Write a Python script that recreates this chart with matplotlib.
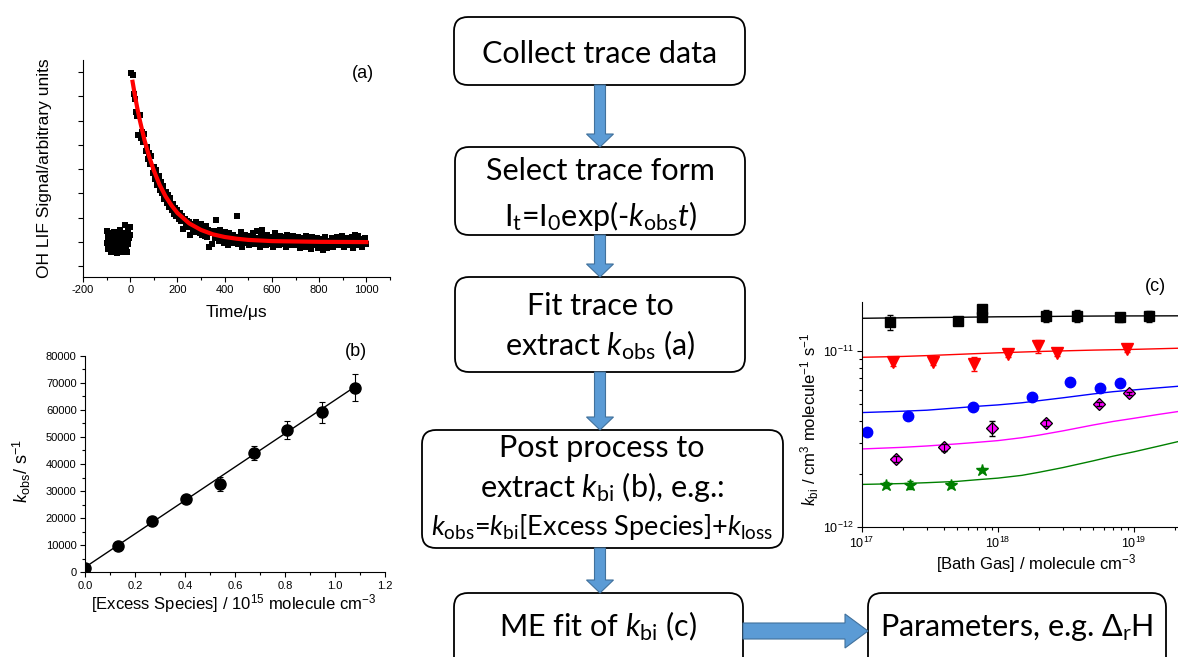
import matplotlib
matplotlib.use("Agg")
import matplotlib.pyplot as plt
from matplotlib.patches import FancyBboxPatch, FancyArrow
from matplotlib.ticker import MultipleLocator, NullFormatter, FormatStrFormatter
import numpy as np

plt.rcParams['font.family'] = ['Liberation Sans', 'DejaVu Sans']
plt.rcParams['mathtext.fontset'] = 'custom'
plt.rcParams['mathtext.rm'] = 'Lato'
plt.rcParams['mathtext.it'] = 'Lato:italic'
plt.rcParams['mathtext.bf'] = 'Lato:bold'
plt.rcParams['axes.unicode_minus'] = False

# ---- panel (a): OH LIF trace ----
pre_t = np.arange(-100, 0.1, 2.5)
pre_v = [1.45, 0.95, 1.20, 0.70, 1.05, 0.80, 1.35, 0.60, 1.10, 0.90,
         1.25, 0.75, 1.00, 1.40, 0.65, 0.85, 1.15, 0.55, 0.95, 1.30,
         0.80, 1.05, 1.50, 0.70, 0.90, 1.20, 0.60, 1.00, 1.35, 0.85,
         1.10, 1.70, 0.75, 0.95, 1.25, 0.60, 1.45, 0.90, 1.15, 1.60, 1.30]
trace_t = np.arange(5, 1001, 5)
trace_v = [7.95, 7.88, 7.10, 6.90, 6.35, 6.20, 5.40, 6.25, 5.30, 5.55,
           5.10, 5.45, 4.75, 4.90, 4.40, 4.65, 4.20, 4.55, 3.85, 4.10,
           3.60, 3.95, 3.35, 3.70, 3.15, 3.45, 3.00, 3.30, 2.75, 3.05,
           2.60, 2.95, 2.45, 2.80, 2.30, 2.55, 2.15, 2.40, 2.05, 2.30,
           1.95, 2.20, 1.85, 2.05, 1.55, 1.95, 1.70, 1.85, 1.60, 1.80,
           1.30, 1.75, 1.55, 1.70, 1.40, 1.80, 1.45, 1.60, 1.35, 1.75,
           1.30, 1.55, 1.25, 1.65, 1.20, 1.50, 0.80, 1.40, 0.90, 1.35,
           1.45, 1.15, 1.90, 1.25, 1.05, 1.50, 1.10, 1.30, 0.95, 1.40,
           1.00, 1.25, 0.85, 1.35, 1.15, 0.95, 1.30, 1.05, 1.20, 2.05,
           0.90, 1.20, 1.05, 1.40, 0.80, 1.15, 1.30, 0.95, 1.10, 1.25,
           0.85, 1.20, 1.00, 1.35, 0.90, 1.10, 1.45, 0.95, 1.15, 0.80,
           1.25, 1.50, 0.95, 1.10, 0.85, 1.30, 1.05, 0.90, 1.20, 1.00,
           0.80, 1.15, 1.35, 0.95, 1.10, 0.85, 1.25, 1.00, 0.90, 1.20,
           1.05, 0.80, 1.30, 0.95, 1.15, 0.85, 1.10, 1.25, 0.90, 1.05,
           0.85, 1.20, 1.00, 0.75, 1.15, 0.95, 1.10, 0.80, 1.25, 1.00,
           0.90, 1.10, 0.70, 1.20, 0.95, 1.05, 0.85, 1.15, 0.75, 1.00,
           1.10, 0.85, 0.65, 1.00, 1.20, 0.90, 0.75, 1.05, 0.95, 0.85,
           1.15, 0.80, 1.00, 0.90, 1.20, 0.95, 0.85, 1.10, 1.25, 0.90,
           0.80, 1.05, 0.95, 1.15, 0.85, 1.00, 0.90, 1.20, 0.75, 1.30,
           0.95, 1.05, 1.25, 0.85, 1.10, 0.80, 1.00, 0.95, 1.15, 0.90]
fit_t = [10, 20, 30, 40, 60, 80, 100, 125, 150, 175, 200, 250, 300, 350,
         400, 450, 500, 600, 800, 1000]
fit_v = [7.60, 7.03, 6.51, 6.04, 5.21, 4.52, 3.94, 3.34, 2.87, 2.50, 2.19,
         1.76, 1.49, 1.31, 1.20, 1.13, 1.08, 1.03, 1.00, 0.99]

# ---- panel (b): pseudo-first-order plot ----
conc = [0.0, 0.133, 0.269, 0.403, 0.54, 0.676, 0.809, 0.947, 1.08]
kobs = [1480, 9720, 19080, 26950, 32600, 43900, 52550, 59080, 68190]
kobs_err = [600, 700, 800, 900, 2700, 2600, 3450, 3900, 5100]
line_x = [0.0, 1.08]
line_y = [1850, 68540]

# ---- panel (c): k_bi vs bath gas ----
sq_x = [1.61e17, 5.12e17, 7.6e17, 7.6e17, 2.27e18, 3.84e18, 7.85e18, 1.29e19]
sq_y = [1.45e-11, 1.47e-11, 1.72e-11, 1.55e-11, 1.58e-11, 1.58e-11, 1.55e-11, 1.57e-11]
sq_e = [0.14e-11, 0.03e-11, 0.05e-11, 0.05e-11, 0.13e-11, 0.13e-11, 0.09e-11, 0.11e-11]
tri_x = [1.69e17, 3.35e17, 6.7e17, 1.19e18, 1.98e18, 2.7e18, 8.8e18]
tri_y = [8.69e-12, 8.69e-12, 8.44e-12, 9.58e-12, 1.067e-11, 9.78e-12, 1.02e-11]
tri_e = [0.5e-12, 0.4e-12, 0.75e-12, 0.3e-12, 0.9e-12, 0.4e-12, 0.4e-12]
cir_x = [1.1e17, 2.17e17, 6.6e17, 1.77e18, 3.38e18, 5.6e18, 7.85e18]
cir_y = [3.46e-12, 4.28e-12, 4.83e-12, 5.46e-12, 6.64e-12, 6.19e-12, 6.56e-12]
dia_x = [1.79e17, 4.02e17, 8.99e17, 2.24e18, 5.54e18, 9.18e18]
dia_y = [2.43e-12, 2.84e-12, 3.64e-12, 3.89e-12, 5.01e-12, 5.75e-12]
dia_e = [0.1e-12, 0.12e-12, 0.36e-12, 0.15e-12, 0.15e-12, 0.12e-12]
star_x = [1.52e17, 2.28e17, 4.52e17, 7.63e17]
star_y = [1.74e-12, 1.74e-12, 1.74e-12, 2.11e-12]
star_e = [0.06e-12, 0.1e-12, 0.06e-12, 0.06e-12]

me_x = [1e17, 2e17, 3e17, 5e17, 7e17, 1e18, 1.5e18, 2e18, 3e18, 5e18,
        7e18, 1e19, 1.5e19, 2.1e19]
me_black = [15.3e-12, 15.4e-12, 15.45e-12, 15.5e-12, 15.55e-12, 15.6e-12, 15.62e-12,
            15.65e-12, 15.7e-12, 15.75e-12, 15.77e-12, 15.78e-12, 15.79e-12, 15.8e-12]
me_red = [9.2e-12, 9.3e-12, 9.4e-12, 9.55e-12, 9.65e-12, 9.75e-12, 9.85e-12,
          9.92e-12, 10.0e-12, 10.1e-12, 10.15e-12, 10.2e-12, 10.28e-12, 10.35e-12]
me_blue = [4.47e-12, 4.55e-12, 4.61e-12, 4.75e-12, 4.85e-12, 4.94e-12, 5.08e-12,
           5.22e-12, 5.42e-12, 5.70e-12, 5.87e-12, 6.01e-12, 6.17e-12, 6.30e-12]
me_mag = [2.78e-12, 2.84e-12, 2.89e-12, 2.97e-12, 3.03e-12, 3.10e-12, 3.22e-12,
          3.33e-12, 3.52e-12, 3.80e-12, 3.98e-12, 4.15e-12, 4.36e-12, 4.53e-12]
me_green = [1.75e-12, 1.77e-12, 1.79e-12, 1.82e-12, 1.86e-12, 1.90e-12, 1.97e-12,
            2.05e-12, 2.18e-12, 2.38e-12, 2.53e-12, 2.68e-12, 2.88e-12, 3.06e-12]

W, H = 1178, 657
fig = plt.figure(figsize=(W / 100, H / 100), dpi=100)


def px_axes(l, t, r, b):
    return fig.add_axes([l / W, 1 - b / H, (r - l) / W, (b - t) / H])


def style(ax, size):
    for s in ['top', 'right']:
        ax.spines[s].set_visible(False)
    ax.tick_params(which='both', direction='out', labelsize=size, width=0.8, pad=2.5)
    ax.tick_params(which='major', length=3.5)
    ax.tick_params(which='minor', length=2)


# flowchart layer in pixel coordinates
ov = fig.add_axes([0, 0, 1, 1])
ov.set_xlim(0, W)
ov.set_ylim(H, 0)
ov.set_axis_off()

boxes = [(454, 17, 745, 85), (455, 147, 745, 235), (455, 277, 745, 372),
         (422, 430, 783, 548), (454, 593, 743, 672), (868, 593, 1166, 672)]
for (l, t, r, b) in boxes:
    ov.add_patch(FancyBboxPatch((l, t), r - l, b - t,
                                boxstyle="round,pad=0,rounding_size=14",
                                fc='white', ec='black', lw=1.3))

arrow_kw = dict(length_includes_head=True, fc='#5B9BD5', ec='#41719C', lw=0.8)
for (y0, y1) in [(85, 147), (235, 277), (372, 430), (548, 593)]:
    ov.add_patch(FancyArrow(600, y0, 0, y1 - y0, width=11, head_width=27,
                            head_length=13, **arrow_kw))
ov.add_patch(FancyArrow(743, 631, 125, 0, width=16, head_width=34,
                        head_length=23, **arrow_kw))

ff = ['Lato', 'DejaVu Sans']
big = 22
ov.text(600, 63, "Collect trace data", ha='center', va='baseline', fontsize=big, family=ff)
ov.text(600, 180, "Select trace form", ha='center', va='baseline', fontsize=big, family=ff)
ov.text(600, 226, r"I$_\mathrm{t}$=I$_\mathrm{0}$exp(-$k_\mathrm{obs}t$)",
        ha='center', va='baseline', fontsize=big, family=ff)
ov.text(600, 315, "Fit trace to", ha='center', va='baseline', fontsize=big, family=ff)
ov.text(600, 355, r"extract $k_\mathrm{obs}$ (a)", ha='center', va='baseline', fontsize=big, family=ff)
ov.text(602, 457, "Post process to", ha='center', va='baseline', fontsize=big, family=ff)
ov.text(602, 497, r"extract $k_\mathrm{bi}$ (b), e.g.:", ha='center', va='baseline', fontsize=big, family=ff)
ov.text(602, 535, r"$k_\mathrm{obs}$=$k_\mathrm{bi}$[Excess Species]+$k_\mathrm{loss}$",
        ha='center', va='baseline', fontsize=19.5, family=ff)
ov.text(598, 636, r"ME fit of $k_\mathrm{bi}$ (c)", ha='center', va='baseline', fontsize=big, family=ff)
ov.text(1017, 636, r"Parameters, e.g. Δ$_\mathrm{r}$H", ha='center', va='baseline', fontsize=big, family=ff)

# panel (a)
axa = px_axes(83, 60, 390, 277)
axa.plot(pre_t, pre_v, 's', color='black', ms=4.2, mew=0)
axa.plot(trace_t, trace_v, 's', color='black', ms=4.2, mew=0)
axa.plot(fit_t, fit_v, color='red', lw=3)
axa.set_xlim(-200, 1100)
axa.set_ylim(-0.45, 8.5)
axa.xaxis.set_major_locator(MultipleLocator(200))
axa.xaxis.set_minor_locator(MultipleLocator(100))
axa.yaxis.set_major_locator(MultipleLocator(1))
axa.yaxis.set_major_formatter(NullFormatter())
style(axa, 8)
axa.set_xlabel(u"Time/\u03bcs", fontsize=12.5)
axa.set_ylabel("OH LIF Signal/arbitrary units", fontsize=12.5)
axa.xaxis.set_label_coords(0.5, -0.165)
axa.xaxis.label.set_va('center')
axa.yaxis.set_label_coords(-0.124, 0.5)
axa.yaxis.label.set_va('center')
fig.text(363 / W, 1 - 73 / H, "(a)", ha='center', va='center', fontsize=13)

# panel (b)
axb = px_axes(85, 355.7, 385, 572.3)
axb.errorbar(conc, kobs, yerr=kobs_err, fmt='o', color='black', ms=8,
             capsize=2, elinewidth=0.8, capthick=0.8, zorder=3)
axb.plot(line_x, line_y, color='black', lw=1)
axb.set_xlim(0, 1.2)
axb.set_ylim(0, 80000)
axb.xaxis.set_major_locator(MultipleLocator(0.2))
axb.xaxis.set_minor_locator(MultipleLocator(0.1))
axb.xaxis.set_major_formatter(FormatStrFormatter('%.1f'))
axb.yaxis.set_major_locator(MultipleLocator(10000))
axb.yaxis.set_minor_locator(MultipleLocator(5000))
style(axb, 8)
axb.set_xlabel(r"[Excess Species] / 10$^{\mathregular{15}}$ molecule cm$^{\mathregular{-3}}$", fontsize=12)
axb.set_ylabel(r"$k_{\mathregular{obs}}$/ s$^{\mathregular{-1}}$", fontsize=13)
axb.xaxis.set_label_coords(0.494, -0.143)
axb.xaxis.label.set_va('center')
axb.yaxis.set_label_coords(-0.21, 0.468)
axb.yaxis.label.set_va('center')
fig.text(356 / W, 1 - 352 / H, "(b)", ha='center', va='center', fontsize=13)

# panel (c)
axc = px_axes(861.7, 301.7, 1178, 527.3)
axc.set_xscale('log')
axc.set_yscale('log')
axc.plot(me_x, me_black, color='black', lw=1)
axc.plot(me_x, me_red, color='red', lw=1)
axc.plot(me_x, me_blue, color='blue', lw=1)
axc.plot(me_x, me_mag, color='magenta', lw=1)
axc.plot(me_x, me_green, color='green', lw=1)
axc.errorbar(sq_x, sq_y, yerr=sq_e, fmt='s', color='black', ms=7, capsize=2, elinewidth=0.8)
axc.errorbar(tri_x, tri_y, yerr=tri_e, fmt='v', color='red', ms=8, capsize=2, elinewidth=0.8)
axc.plot(cir_x, cir_y, 'o', color='blue', ms=7.5)
axc.plot(dia_x, dia_y, 'D', mfc='magenta', mec='black', ms=6.5, mew=0.9)
axc.errorbar(dia_x, dia_y, yerr=dia_e, fmt='none', ecolor='black', capsize=2, elinewidth=0.8)
axc.errorbar(star_x, star_y, yerr=star_e, fmt='*', color='green', ms=9, capsize=2, elinewidth=0.8)
axc.set_xlim(1e17, 2.1e19)
axc.set_ylim(1e-12, 1.9e-11)
axc.set_xticks([1e17, 1e18, 1e19])
axc.set_yticks([1e-12, 1e-11])
style(axc, 9)
axc.set_xlabel(r"[Bath Gas] / molecule cm$^{\mathregular{-3}}$", fontsize=12)
axc.set_ylabel(r"$k_{\mathregular{bi}}$ / cm$^{\mathregular{3}}$ molecule$^{\mathregular{-1}}$ s$^{\mathregular{-1}}$", fontsize=12)
axc.xaxis.set_label_coords(0.553, -0.16)
axc.xaxis.label.set_va('center')
axc.yaxis.set_label_coords(-0.165, 0.48)
axc.yaxis.label.set_va('center')
fig.text(1155 / W, 1 - 287 / H, "(c)", ha='center', va='center', fontsize=13)

fig.savefig("out.png", dpi=100)
